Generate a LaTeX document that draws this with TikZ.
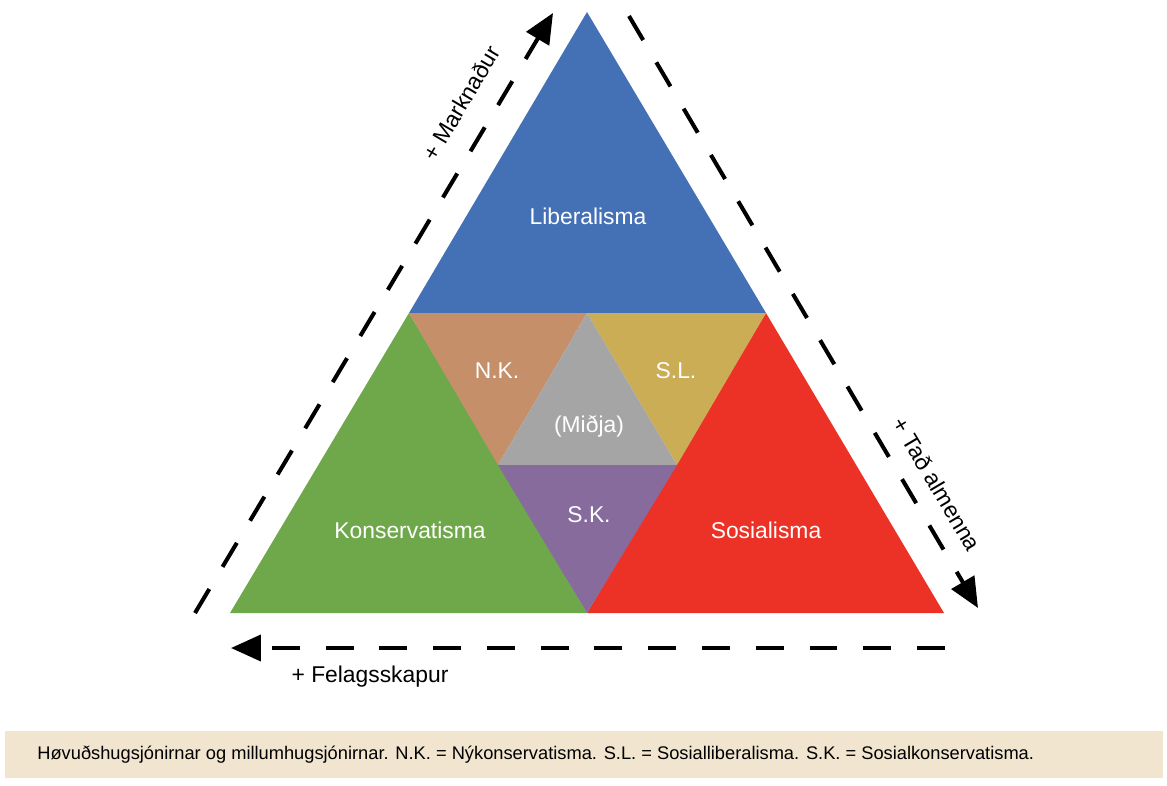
\documentclass[tikz,border=0pt]{standalone}
\usepackage{fontspec}
\setmainfont{Liberation Sans}
\usetikzlibrary{arrows.meta}
\definecolor{libblue}{HTML}{4470B5}
\definecolor{kongreen}{HTML}{6FA84A}
\definecolor{sosred}{HTML}{EC3226}
\definecolor{nkbrown}{HTML}{C58F69}
\definecolor{slgold}{HTML}{CBAD55}
\definecolor{midgray}{HTML}{A5A5A5}
\definecolor{skpurple}{HTML}{866B9C}
\definecolor{capbeige}{HTML}{F1E5CF}
\begin{document}
\begin{tikzpicture}[x=0.02cm, y=-0.02cm, region label/.style={text=white,font=\fontsize{13}{15}\selectfont}, side label/.style={font=\fontsize{13}{15}\selectfont}, axis arrow/.style={line width=2.3pt, dash pattern=on 15.9pt off 14.7pt, -{Triangle[length=0.6cm,width=0.52cm]}}]
\useasboundingbox (0,0) rectangle (1167,785);
\begin{scope}
\coordinate (top) at (587,12);
\coordinate (ml) at (409,313);
\coordinate (mm) at (587,313);
\coordinate (mr) at (766,313);
\coordinate (cl) at (498,465);
\coordinate (cr) at (677,465);
\coordinate (bl) at (230,613);
\coordinate (bm) at (587,613);
\coordinate (br) at (944,613);
\end{scope}
\begin{scope}
\fill[libblue] (top) -- (ml) -- (mr) -- cycle;
\fill[kongreen] (ml) -- (bl) -- (bm) -- cycle;
\fill[sosred] (mr) -- (bm) -- (br) -- cycle;
\fill[nkbrown] (ml) -- (mm) -- (cl) -- cycle;
\fill[slgold] (mm) -- (mr) -- (cr) -- cycle;
\fill[midgray] (mm) -- (cl) -- (cr) -- cycle;
\fill[skpurple] (cl) -- (cr) -- (bm) -- cycle;
\end{scope}
\begin{scope}[every node/.style={region label}]
\node (lib) at (588,216) {Liberalisma};
\node (nk) at (497,371) {N.K.};
\node (sl) at (676,371) {S.L.};
\node (mid) at (589,426) {(Miðja)};
\node (sk) at (589,515) {S.K.};
\node (kon) at (410,530) {Konservatisma};
\node (sos) at (766,530) {Sosialisma};
\end{scope}
\begin{scope}
\coordinate (a1) at (195,613);
\coordinate (a2) at (553,13);
\coordinate (b1) at (629,16);
\coordinate (b2) at (978,608);
\coordinate (c1) at (945,648);
\coordinate (c2) at (231,648);
\draw[axis arrow] (a1) -- (a2);
\draw[axis arrow] (b1) -- (b2);
\draw[axis arrow] (c1) -- (c2);
\end{scope}
\node[side label, rotate=59.3] (mark) at (461,103) {+ Marknaður};
\node[side label, rotate=-59.3] (alm) at (937,484) {+ Tað almenna};
\node[side label] (fel) at (370,677) {+ Felagsskapur};
\fill[capbeige] (5,731) rectangle (1163,778);
\node[anchor=west, font=\fontsize{10.4}{12.5}\selectfont, inner sep=0pt] (cap) at (37,755) {Høvuðshugsjónirnar og millumhugsjónirnar. N.K. = Nýkonservatisma. S.L. = Sosialliberalisma. S.K. = Sosialkonservatisma.};
\end{tikzpicture}
\end{document}
